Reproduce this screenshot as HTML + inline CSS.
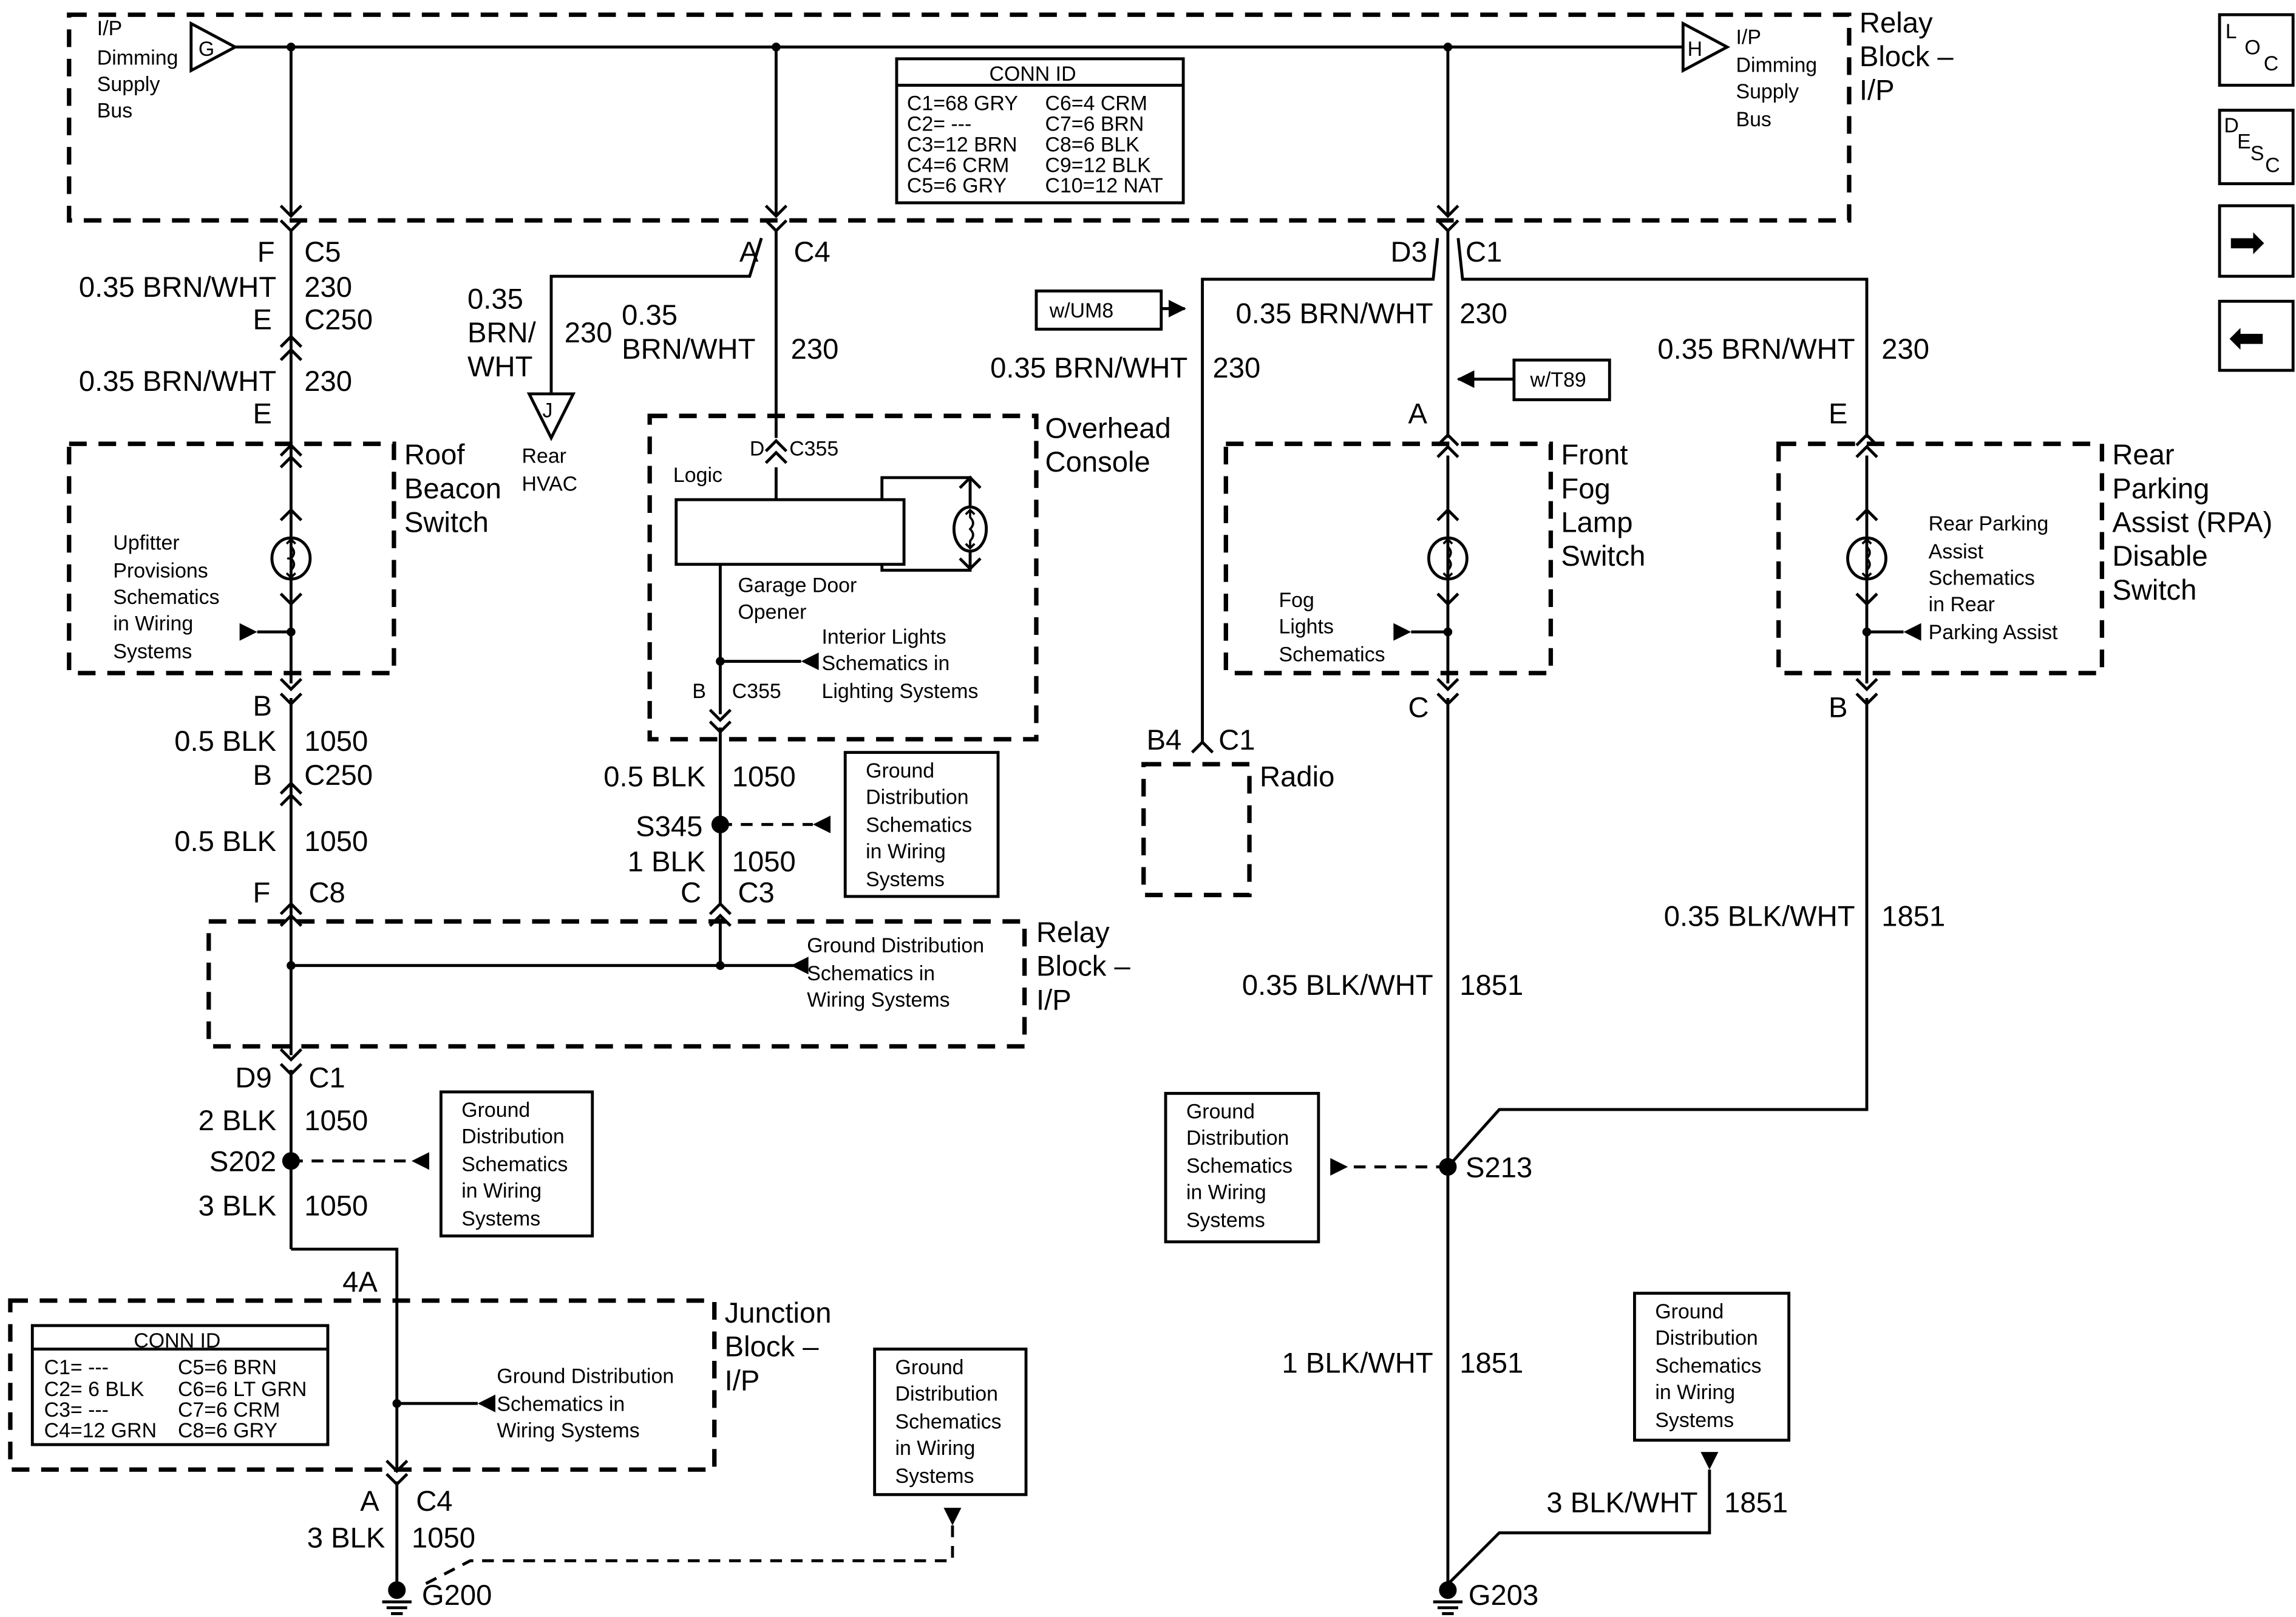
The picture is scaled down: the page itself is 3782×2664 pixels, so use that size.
<!DOCTYPE html>
<html><head><meta charset="utf-8"><style>
html,body{margin:0;padding:0;background:#fff}
svg{display:block}
text{font-family:"Liberation Sans",sans-serif;fill:#000}
.b{font-size:19.5px}.s{font-size:14px}
</style></head><body>
<svg width="3782" height="2664" viewBox="0 0 1562 1100.3" preserveAspectRatio="none" xmlns="http://www.w3.org/2000/svg">
<defs>
<marker id="tri" markerWidth="12" markerHeight="12" refX="11" refY="6" orient="auto" markerUnits="userSpaceOnUse"><path d="M0,0 L12,6 L0,12z" fill="#000"/></marker>
</defs>
<g fill="none" stroke="#000" stroke-width="2">
<g stroke-dasharray="12,8" stroke-width="3">
<rect x="47" y="10" width="1211" height="140"/>
<rect x="47" y="302" width="221" height="156"/>
<rect x="442" y="283" width="263" height="220"/>
<rect x="834" y="302" width="221" height="156"/>
<rect x="1210" y="302" width="220" height="156"/>
<rect x="142" y="627" width="555" height="85"/>
<rect x="7" y="885" width="479" height="115"/>
<rect x="778" y="520" width="72" height="89"/>
</g>
<line x1="160" y1="32" x2="1145" y2="32"/>
<path d="M130,16 L160,32 L130,48 Z"/>
<path d="M1145,16 L1175,32 L1145,48 Z"/>
<line x1="198" y1="32" x2="198" y2="146"/>
<line x1="198" y1="156" x2="198" y2="465"/>
<line x1="198" y1="475" x2="198" y2="718"/>
<line x1="198" y1="728" x2="198" y2="850"/>
<polyline points="198,850 270,850 270,1000"/>
<line x1="270" y1="1008" x2="270" y2="1078"/>
<line x1="528" y1="32" x2="528" y2="146"/>
<line x1="528" y1="156" x2="528" y2="298"/>
<polyline points="518,162 510,188 375,188 375,268"/>
<line x1="528" y1="318" x2="528" y2="340"/>
<rect x="460" y="340" width="155" height="44"/>
<polyline points="600,340 600,325 660,325 660,345"/>
<polyline points="600,384 600,388 660,388 660,375"/>
<line x1="490" y1="384" x2="490" y2="486"/>
<line x1="490" y1="495" x2="490" y2="616"/>
<line x1="490" y1="625" x2="490" y2="657"/>
<line x1="198" y1="657" x2="540" y2="657"/>
<line x1="985" y1="32" x2="985" y2="146"/>
<polyline points="978,162 975,190 818,190 818,506"/>
<polyline points="992,162 995,190 1270,190 1270,298"/>
<line x1="985" y1="156" x2="985" y2="298"/>
<line x1="985" y1="310" x2="985" y2="465"/>
<line x1="985" y1="475" x2="985" y2="1078"/>
<polyline points="985,794 1020,755 1270,755 1270,475"/>
<line x1="1270" y1="310" x2="1270" y2="465"/>
<polyline points="1163,1000 1163,1043 1020,1043 985,1078"/>
<rect x="610" y="40" width="195" height="98"/>
<line x1="610" y1="58" x2="805" y2="58"/>
<rect x="22" y="902" width="201" height="81"/>
<line x1="22" y1="918" x2="223" y2="918"/>
<rect x="575" y="512" width="104" height="98"/>
<rect x="300" y="743" width="103" height="98"/>
<rect x="595" y="918" width="103" height="99"/>
<rect x="793" y="744" width="104" height="101"/>
<rect x="1112" y="880" width="105" height="100"/>
<rect x="705" y="198" width="85" height="26"/>
<rect x="1030" y="245" width="65" height="27"/>
<rect x="1510" y="10" width="50" height="48"/>
<rect x="1510" y="75" width="50" height="50"/>
<rect x="1510" y="140" width="50" height="48"/>
<rect x="1510" y="205" width="50" height="47"/>
<path d="M360,268 L390,268 L375,298z"/>
<g stroke-dasharray="8,6">
<line x1="490" y1="561" x2="553" y2="561"/>
<line x1="198" y1="790" x2="280" y2="790"/>
<line x1="985" y1="794" x2="917" y2="794"/>
<polyline points="648,1038 648,1062 320,1062 285,1080"/>
</g>
<line x1="790" y1="210" x2="806" y2="210" marker-end="url(#tri)"/>
<line x1="1030" y1="258" x2="992" y2="258" marker-end="url(#tri)"/>
<line x1="175" y1="430" x2="198" y2="430"/>
<line x1="490" y1="450" x2="545" y2="450"/>
<line x1="960" y1="430" x2="985" y2="430"/>
<line x1="1270" y1="430" x2="1295" y2="430"/>
<line x1="270" y1="955" x2="325" y2="955"/>
</g>
<g fill="#000" stroke="none">
<path d="M163,424 L175,430 L163,436z"/>
<path d="M557,444 L545,450 L557,456z"/>
<path d="M948,424 L960,430 L948,436z"/>
<path d="M1307,424 L1295,430 L1307,436z"/>
<path d="M550,651 L538,657 L550,663z"/>
<path d="M337,949 L325,955 L337,961z"/>
<path d="M565,555 L553,561 L565,567z"/>
<path d="M292,784 L280,790 L292,796z"/>
<path d="M905,788 L917,794 L905,800z"/>
<path d="M1157,988 L1163,1000 L1169,988z"/>
<path d="M642,1026 L648,1038 L654,1026z"/>
</g>
<g fill="none" stroke="#000" stroke-width="2">
<ellipse cx="198" cy="380" rx="13" ry="14"/><ellipse cx="660" cy="360" rx="11" ry="15"/>
<ellipse cx="985" cy="380" rx="13" ry="14"/><ellipse cx="1270" cy="380" rx="13" ry="14"/>
<g stroke-width="1.5">
<path d="M198,367 v5 q4,4 0,8 q-4,0 0,0 q4,4 0,8 v5 M195,370 l3,-3 l3,3 M195,390 l3,3 l3,-3"/>
<path d="M985,367 v5 q4,4 0,8 q4,4 0,8 v5 M982,370 l3,-3 l3,3 M982,390 l3,3 l3,-3"/>
<path d="M1270,367 v5 q4,4 0,8 q4,4 0,8 v5 M1267,370 l3,-3 l3,3 M1267,390 l3,3 l3,-3"/>
<path d="M660,347 v5 q4,4 0,8 q4,4 0,8 v5 M657,350 l3,-3 l3,3 M657,370 l3,3 l3,-3"/>
</g>
</g>
<g fill="none" stroke="#000" stroke-width="2">
<path d="M191,140 l7,7 l7,-7 M191,150 l7,7 l7,-7"/>
<path d="M521,140 l7,7 l7,-7 M521,150 l7,7 l7,-7"/>
<path d="M978,140 l7,7 l7,-7 M978,150 l7,7 l7,-7"/>
<path d="M191,236 l7,-7 l7,7 M191,245 l7,-7 l7,7"/>
<path d="M191,310 l7,-7 l7,7 M191,318 l7,-7 l7,7"/>
<path d="M191,462 l7,7 l7,-7 M191,472 l7,7 l7,-7"/>
<path d="M191,540 l7,-7 l7,7 M191,548 l7,-7 l7,7"/>
<path d="M191,622 l7,-7 l7,7 M191,630 l7,-7 l7,7"/>
<path d="M191,714 l7,7 l7,-7 M191,724 l7,7 l7,-7"/>
<path d="M263,994 l7,7 l7,-7 M263,1003 l7,7 l7,-7"/>
<path d="M521,307 l7,-7 l7,7 M521,315 l7,-7 l7,7"/>
<path d="M483,483 l7,7 l7,-7 M483,491 l7,7 l7,-7"/>
<path d="M483,622 l7,-7 l7,7 M483,630 l7,-7 l7,7"/>
<path d="M653,332 l7,-7 l7,7 M653,380 l7,7 l7,-7"/>
<path d="M811,512 l7,-7 l7,7"/>
<path d="M978,303 l7,-7 l7,7 M978,311 l7,-7 l7,7"/>
<path d="M978,462 l7,7 l7,-7 M978,472 l7,7 l7,-7"/>
<path d="M1263,303 l7,-7 l7,7 M1263,311 l7,-7 l7,7"/>
<path d="M1263,462 l7,7 l7,-7 M1263,472 l7,7 l7,-7"/>
<path d="M191,354 l7,-7 l7,7 M191,404 l7,7 l7,-7 M978,354 l7,-7 l7,7 M978,404 l7,7 l7,-7 M1263,354 l7,-7 l7,7 M1263,404 l7,7 l7,-7"/>
</g>
<g fill="#000"><circle cx="198" cy="32" r="3"/><circle cx="528" cy="32" r="3"/><circle cx="985" cy="32" r="3"/>
<circle cx="490" cy="561" r="6"/><circle cx="198" cy="790" r="6"/><circle cx="985" cy="794" r="6"/>
<circle cx="198" cy="657" r="3"/><circle cx="490" cy="657" r="3"/><circle cx="490" cy="450" r="3"/><circle cx="198" cy="430" r="3"/><circle cx="985" cy="430" r="3"/><circle cx="1270" cy="430" r="3"/><circle cx="270" cy="955" r="3"/>
</g>
<g stroke="#000" stroke-width="2" fill="#000">
<circle cx="270" cy="1082" r="5"/><circle cx="985" cy="1082" r="5"/>
<path d="M260,1090 h20 M263,1094 h14 M266,1098 h8 M975,1090 h20 M978,1094 h14 M981,1098 h8" fill="none"/>
</g>
<g class="s">
<text x="66" y="24">I/P</text><text x="66" y="44">Dimming</text><text x="66" y="62">Supply</text><text x="66" y="80">Bus</text>
<text x="1181" y="30">I/P</text><text x="1181" y="49">Dimming</text><text x="1181" y="67">Supply</text><text x="1181" y="86">Bus</text>
<text x="135" y="38">G</text><text x="1148" y="38">H</text><text x="369" y="284">J</text>
<text x="673" y="55">CONN ID</text>
<text x="617" y="75">C1=68 GRY</text><text x="617" y="89">C2= ---</text><text x="617" y="103">C3=12 BRN</text><text x="617" y="117">C4=6 CRM</text><text x="617" y="131">C5=6 GRY</text>
<text x="711" y="75">C6=4 CRM</text><text x="711" y="89">C7=6 BRN</text><text x="711" y="103">C8=6 BLK</text><text x="711" y="117">C9=12 BLK</text><text x="711" y="131">C10=12 NAT</text>
<text x="91" y="917">CONN ID</text>
<text x="30" y="935">C1= ---</text><text x="30" y="950">C2= 6 BLK</text><text x="30" y="964">C3= ---</text><text x="30" y="978">C4=12 GRN</text>
<text x="121" y="935">C5=6 BRN</text><text x="121" y="950">C6=6 LT GRN</text><text x="121" y="964">C7=6 CRM</text><text x="121" y="978">C8=6 GRY</text>
<text x="77" y="374">Upfitter</text><text x="77" y="393">Provisions</text><text x="77" y="411">Schematics</text><text x="77" y="429">in Wiring</text><text x="77" y="448">Systems</text>
<text x="355" y="315">Rear</text><text x="355" y="334">HVAC</text>
<text x="510" y="310">D</text><text x="537" y="310">C355</text>
<text x="458" y="328">Logic</text>
<text x="502" y="403">Garage Door</text><text x="502" y="421">Opener</text>
<text x="559" y="438">Interior Lights</text><text x="559" y="456">Schematics in</text><text x="559" y="475">Lighting Systems</text>
<text x="471" y="475">B</text><text x="498" y="475">C355</text>
<text x="589" y="529">Ground</text><text x="589" y="547">Distribution</text><text x="589" y="566">Schematics</text><text x="589" y="584">in Wiring</text><text x="589" y="603">Systems</text>
<text x="549" y="648">Ground Distribution</text><text x="549" y="667">Schematics in</text><text x="549" y="685">Wiring Systems</text>
<text x="314" y="760">Ground</text><text x="314" y="778">Distribution</text><text x="314" y="797">Schematics</text><text x="314" y="815">in Wiring</text><text x="314" y="834">Systems</text>
<text x="338" y="941">Ground Distribution</text><text x="338" y="960">Schematics in</text><text x="338" y="978">Wiring Systems</text>
<text x="609" y="935">Ground</text><text x="609" y="953">Distribution</text><text x="609" y="972">Schematics</text><text x="609" y="990">in Wiring</text><text x="609" y="1009">Systems</text>
<text x="714" y="216">w/UM8</text><text x="1041" y="263">w/T89</text>
<text x="870" y="413">Fog</text><text x="870" y="431">Lights</text><text x="870" y="450">Schematics</text>
<text x="1312" y="361">Rear Parking</text><text x="1312" y="380">Assist</text><text x="1312" y="398">Schematics</text><text x="1312" y="416">in Rear</text><text x="1312" y="435">Parking Assist</text>
<text x="807" y="761">Ground</text><text x="807" y="779">Distribution</text><text x="807" y="798">Schematics</text><text x="807" y="816">in Wiring</text><text x="807" y="835">Systems</text>
<text x="1126" y="897">Ground</text><text x="1126" y="915">Distribution</text><text x="1126" y="934">Schematics</text><text x="1126" y="952">in Wiring</text><text x="1126" y="971">Systems</text>
<text x="1514" y="26">L</text><text x="1527" y="37">O</text><text x="1540" y="48">C</text>
<text x="1513" y="90">D</text><text x="1522" y="101">E</text><text x="1531" y="109">S</text><text x="1541" y="117">C</text>
</g>
<g font-size="30" font-family="DejaVu Sans,sans-serif"><text x="1516" y="175">➡</text><text x="1516" y="240">⬅</text></g>
<g class="b">
<text x="1265" y="22">Relay</text><text x="1265" y="45">Block –</text><text x="1265" y="68">I/P</text>
<text x="175" y="178">F</text><text x="207" y="178">C5</text>
<text x="188" y="202" text-anchor="end">0.35 BRN/WHT</text><text x="207" y="202">230</text>
<text x="172" y="224">E</text><text x="207" y="224">C250</text>
<text x="188" y="266" text-anchor="end">0.35 BRN/WHT</text><text x="207" y="266">230</text>
<text x="172" y="288">E</text>
<text x="275" y="316">Roof</text><text x="275" y="339">Beacon</text><text x="275" y="362">Switch</text>
<text x="172" y="487">B</text>
<text x="188" y="511" text-anchor="end">0.5 BLK</text><text x="207" y="511">1050</text>
<text x="172" y="534">B</text><text x="207" y="534">C250</text>
<text x="188" y="579" text-anchor="end">0.5 BLK</text><text x="207" y="579">1050</text>
<text x="172" y="614">F</text><text x="210" y="614">C8</text>
<text x="160" y="740">D9</text><text x="210" y="740">C1</text>
<text x="188" y="769" text-anchor="end">2 BLK</text><text x="207" y="769">1050</text>
<text x="188" y="797" text-anchor="end">S202</text>
<text x="188" y="827" text-anchor="end">3 BLK</text><text x="207" y="827">1050</text>
<text x="233" y="879">4A</text>
<text x="493" y="900">Junction</text><text x="493" y="923">Block –</text><text x="493" y="946">I/P</text>
<text x="245" y="1028">A</text><text x="283" y="1028">C4</text>
<text x="262" y="1053" text-anchor="end">3 BLK</text><text x="280" y="1053">1050</text>
<text x="287" y="1092">G200</text>
<text x="503" y="178">A</text><text x="540" y="178">C4</text>
<text x="318" y="210">0.35</text><text x="318" y="233">BRN/</text><text x="318" y="256">WHT</text><text x="384" y="233">230</text>
<text x="423" y="221">0.35</text><text x="423" y="244">BRN/WHT</text><text x="538" y="244">230</text>
<text x="711" y="298">Overhead</text><text x="711" y="321">Console</text>
<text x="480" y="535" text-anchor="end">0.5 BLK</text><text x="498" y="535">1050</text>
<text x="478" y="569" text-anchor="end">S345</text>
<text x="480" y="593" text-anchor="end">1 BLK</text><text x="498" y="593">1050</text>
<text x="463" y="614">C</text><text x="502" y="614">C3</text>
<text x="705" y="641">Relay</text><text x="705" y="664">Block –</text><text x="705" y="687">I/P</text>
<text x="946" y="178">D3</text><text x="997" y="178">C1</text>
<text x="975" y="220" text-anchor="end">0.35 BRN/WHT</text><text x="993" y="220">230</text>
<text x="808" y="257" text-anchor="end">0.35 BRN/WHT</text><text x="825" y="257">230</text>
<text x="1262" y="244" text-anchor="end">0.35 BRN/WHT</text><text x="1280" y="244">230</text>
<text x="958" y="288">A</text><text x="1244" y="288">E</text>
<text x="1062" y="316">Front</text><text x="1062" y="339">Fog</text><text x="1062" y="362">Lamp</text><text x="1062" y="385">Switch</text>
<text x="1437" y="316">Rear</text><text x="1437" y="339">Parking</text><text x="1437" y="362">Assist (RPA)</text><text x="1437" y="385">Disable</text><text x="1437" y="408">Switch</text>
<text x="958" y="488">C</text><text x="1244" y="488">B</text>
<text x="780" y="510">B4</text><text x="829" y="510">C1</text>
<text x="857" y="535">Radio</text>
<text x="1262" y="630" text-anchor="end">0.35 BLK/WHT</text><text x="1280" y="630">1851</text>
<text x="975" y="677" text-anchor="end">0.35 BLK/WHT</text><text x="993" y="677">1851</text>
<text x="997" y="801">S213</text>
<text x="975" y="934" text-anchor="end">1 BLK/WHT</text><text x="993" y="934">1851</text>
<text x="1155" y="1029" text-anchor="end">3 BLK/WHT</text><text x="1173" y="1029">1851</text>
<text x="999" y="1092">G203</text>
</g>
</svg>
</body></html>
